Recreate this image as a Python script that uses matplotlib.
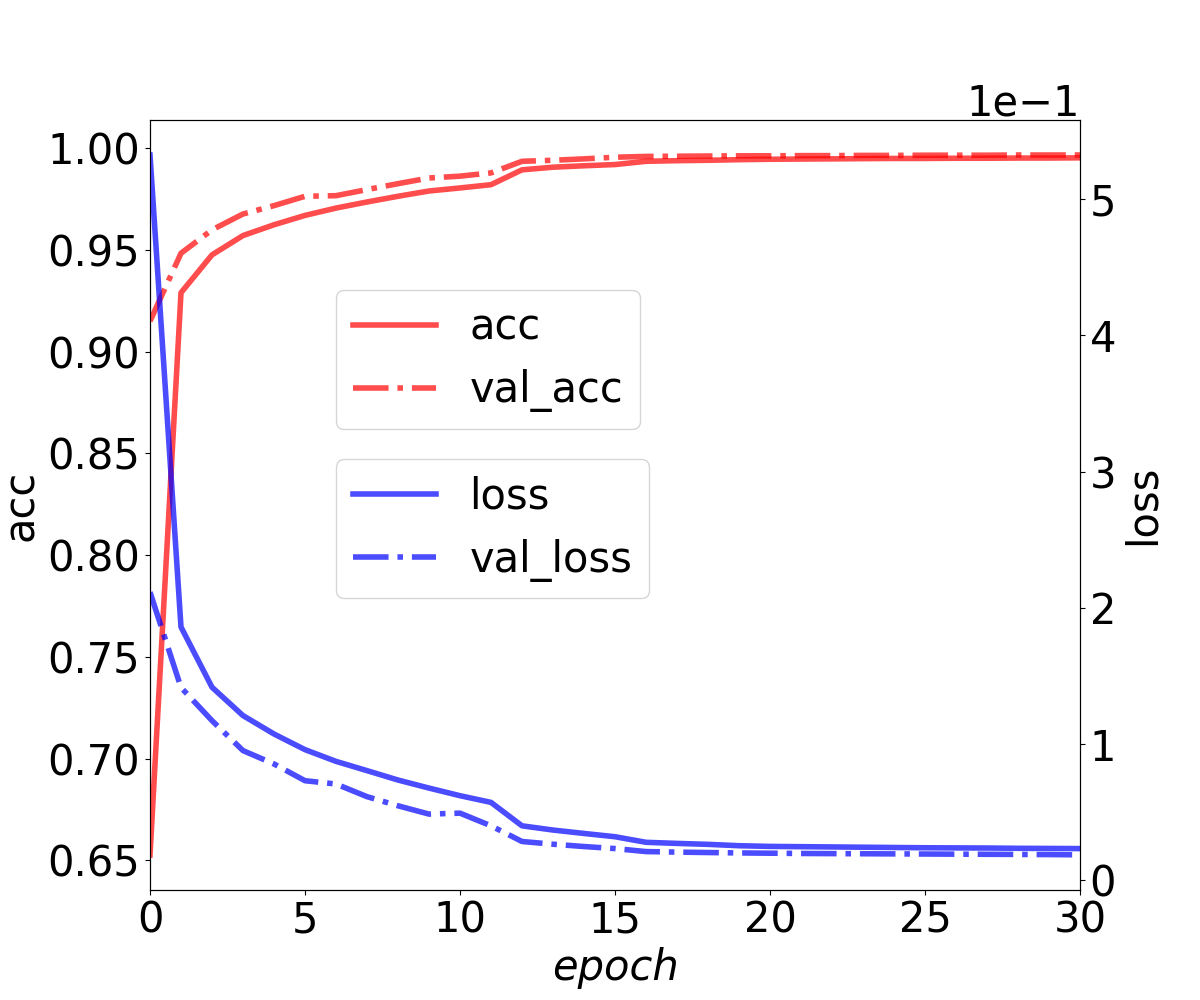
import numpy as np
import matplotlib
matplotlib.use('Agg')
import matplotlib.pyplot as plt

epochs = list(range(31))

acc = [0.6526, 0.9290, 0.9476, 0.9571, 0.9624, 0.9670, 0.9706, 0.9736, 0.9764, 0.9790,
       0.9805, 0.9821, 0.9894, 0.9907, 0.9914, 0.9920, 0.9936, 0.9939, 0.9941, 0.9944,
       0.9946, 0.9947, 0.9948, 0.9949, 0.9950, 0.9950, 0.9951, 0.9951, 0.9952, 0.9952, 0.9953]
val_acc = [0.9150, 0.9484, 0.9599, 0.9677, 0.9718, 0.9764, 0.9767, 0.9797, 0.9826, 0.9854,
           0.9863, 0.9879, 0.9936, 0.9941, 0.9948, 0.9956, 0.9960, 0.9961, 0.9962, 0.9963,
           0.9963, 0.9964, 0.9964, 0.9965, 0.9965, 0.9966, 0.9966, 0.9966, 0.9967, 0.9967, 0.9967]
loss = [0.5324, 0.1860, 0.1418, 0.1210, 0.1075, 0.0960, 0.0874, 0.0806, 0.0737, 0.0678,
        0.0622, 0.0573, 0.0401, 0.0370, 0.0345, 0.0321, 0.0280, 0.0272, 0.0265, 0.0255,
        0.0250, 0.0248, 0.0246, 0.0244, 0.0242, 0.0240, 0.0239, 0.0238, 0.0236, 0.0235, 0.0234]
val_loss = [0.2116, 0.1416, 0.1173, 0.0953, 0.0855, 0.0732, 0.0708, 0.0615, 0.0548, 0.0487,
            0.0494, 0.0401, 0.0286, 0.0266, 0.0249, 0.0234, 0.0212, 0.0208, 0.0205, 0.0202,
            0.0200, 0.0198, 0.0197, 0.0196, 0.0195, 0.0194, 0.0193, 0.0192, 0.0191, 0.0190, 0.0188]

fs = 30

fig, ax1 = plt.subplots(figsize=(12, 10), dpi=100)
ax1.plot(epochs, acc, 'r-', lw=4, alpha=0.7, label='acc')
ax1.plot(epochs, val_acc, 'r-.', lw=4, alpha=0.7, label='val_acc')
ax1.set_xlim(0, 30)
ax1.set_ylim(0.6354, 1.0139)
ax1.set_xlabel('epoch', fontsize=fs, style='italic')
ax1.set_ylabel('acc', fontsize=fs)
ax1.tick_params(labelsize=fs)

ax2 = ax1.twinx()
ax2.plot(epochs, loss, 'b-', lw=4, alpha=0.7, label='loss')
ax2.plot(epochs, val_loss, 'b-.', lw=4, alpha=0.7, label='val_loss')
ax2.set_ylim(-0.007, 0.5581)
ax2.set_ylabel('loss', fontsize=fs)
ax2.tick_params(labelsize=fs)
ax2.ticklabel_format(axis='y', style='sci', scilimits=(0, 0))
ax2.yaxis.get_offset_text().set_fontsize(fs)

ax1.legend(loc='upper left', bbox_to_anchor=(0.2, 0.7794), borderaxespad=0, fontsize=fs)
ax2.legend(loc='upper left', bbox_to_anchor=(0.2, 0.5595), borderaxespad=0, fontsize=fs)

plt.savefig('out.png')
